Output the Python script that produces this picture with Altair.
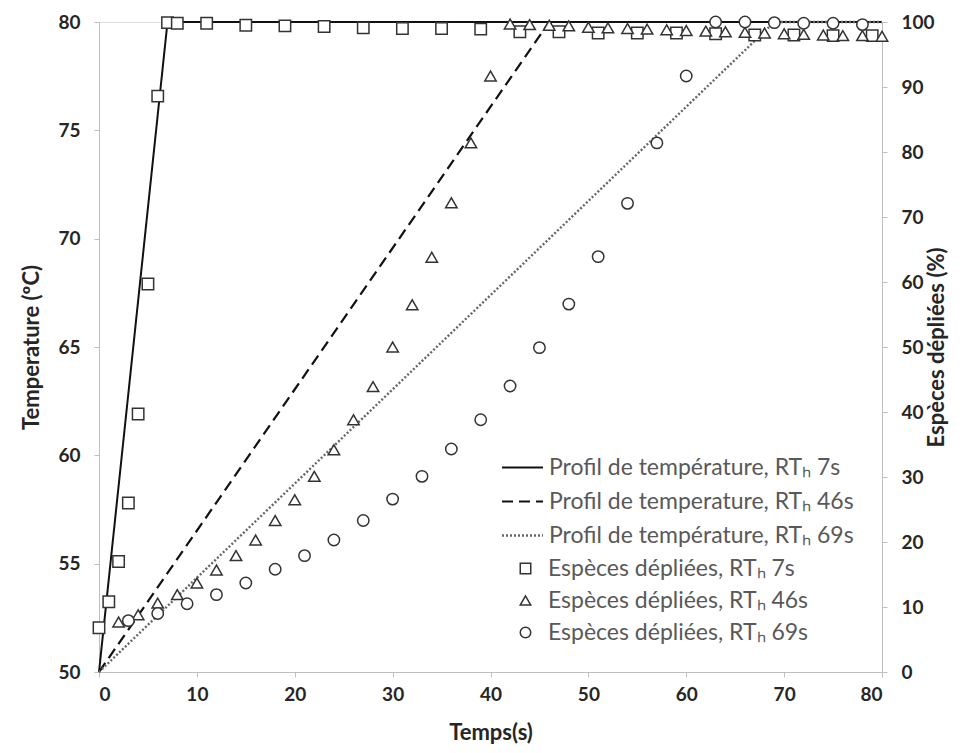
import altair as alt
import pandas as pd

# --- data ---------------------------------------------------------------
prof_labels = [
    "Profil de température, RTₕ 7s",
    "Profil de temperature, RTₕ 46s",
    "Profil de température, RTₕ 69s",
]
prof_t_7 = [0, 7, 80]
prof_t_46 = [0, 46, 80]
prof_t_69 = [0, 69, 80]
prof_temp = [50, 80, 80]

pt_labels = [
    "Espèces dépliées, RTₕ 7s",
    "Espèces dépliées, RTₕ 46s",
    "Espèces dépliées, RTₕ 69s",
]
sq_t = [0, 1, 2, 3, 4, 5, 6, 7, 8, 11, 15, 19, 23, 27, 31, 35, 39, 43, 47, 51, 55, 59, 63, 67, 71, 75, 79]
sq_v = [6.8, 10.8, 17.0, 26.0, 39.7, 59.7, 88.6, 99.9, 99.8, 99.8, 99.5, 99.4, 99.3, 99.1, 99.0, 99.0,
        98.9, 98.5, 98.5, 98.3, 98.3, 98.3, 98.2, 98.0, 98.0, 97.9, 97.9]
tri_t = [2, 4, 6, 8, 10, 12, 14, 16, 18, 20, 22, 24, 26, 28, 30, 32, 34, 36, 38, 40,
         42, 44, 46, 48, 50, 52, 54, 56, 58, 60, 62, 64, 66, 68, 70, 72, 74, 76, 78, 80]
tri_v = [7.7, 8.8, 10.6, 11.9, 13.7, 15.7, 17.9, 20.3, 23.3, 26.5, 30.1, 34.2, 38.8, 43.9, 50.0,
         56.5, 63.8, 72.2, 81.4, 91.7,
         99.7, 99.6, 99.5, 99.4, 99.2, 99.1, 99.0, 98.9, 98.8, 98.7, 98.6, 98.5, 98.4, 98.3, 98.2,
         98.1, 98.0, 97.9, 97.9, 97.8]
circ_t = [3, 6, 9, 12, 15, 18, 21, 24, 27, 30, 33, 36, 39, 42, 45, 48, 51, 54, 57, 60,
          63, 66, 69, 72, 75, 78]
circ_v = [7.9, 9.0, 10.5, 11.9, 13.7, 15.8, 17.9, 20.3, 23.3, 26.6, 30.1, 34.3, 38.8, 44.0, 49.9,
          56.6, 63.9, 72.1, 81.4, 91.7, 100.0, 100.0, 99.9, 99.8, 99.8, 99.6]

x_ticks = [0, 10, 20, 30, 40, 50, 60, 70, 80]
yl_ticks = [50, 55, 60, 65, 70, 75, 80]
yr_ticks = [0, 10, 20, 30, 40, 50, 60, 70, 80, 90, 100]

# --- tables -------------------------------------------------------------
lines_df = pd.concat([
    pd.DataFrame({"t": prof_t_7, "temp": prof_temp, "profil": prof_labels[0], "o": [0, 1, 2]}),
    pd.DataFrame({"t": prof_t_46, "temp": prof_temp, "profil": prof_labels[1], "o": [0, 1, 2]}),
    pd.DataFrame({"t": prof_t_69, "temp": prof_temp, "profil": prof_labels[2], "o": [0, 1, 2]}),
])
pts_df = pd.concat([
    pd.DataFrame({"t": sq_t, "pct": sq_v, "especes": pt_labels[0]}),
    pd.DataFrame({"t": tri_t, "pct": tri_v, "especes": pt_labels[1]}),
    pd.DataFrame({"t": circ_t, "pct": circ_v, "especes": pt_labels[2]}),
])

FONT = "Lato"
LAB = dict(labelFont=FONT, labelFontSize=19, labelFontWeight="bold", labelColor="#262626",
           titleFont=FONT, titleFontSize=22, titleFontWeight="bold", titleColor="#262626",
           domainColor="#bfbfbf", tickColor="#bfbfbf", tickSize=5, grid=False)

x_enc = alt.X("t:Q", scale=alt.Scale(domain=[0, 80], nice=False),
              axis=alt.Axis(values=x_ticks, title="Temps(s)", labelPadding=8, titlePadding=18, **LAB))

line_leg = alt.Legend(title=None, orient="none", legendX=412, legendY=434,
                      symbolType="M-4,0H4", symbolSize=105, symbolStrokeWidth=2,
                      labelFont=FONT, labelFontSize=23, labelColor="#595959",
                      labelLimit=0, labelOffset=15, rowPadding=10, padding=0)

lines = alt.Chart(lines_df).mark_line().encode(
    x=x_enc,
    y=alt.Y("temp:Q", scale=alt.Scale(domain=[50, 80], nice=False),
            axis=alt.Axis(values=yl_ticks, title="Temperature (ºC)", orient="left",
                          labelPadding=14, titlePadding=14, **LAB)),
    order="o:Q",
    strokeDash=alt.StrokeDash("profil:N", scale=alt.Scale(domain=prof_labels,
                              range=[[1, 0], [11, 6], [2, 2]]), legend=line_leg),
    color=alt.Color("profil:N", scale=alt.Scale(domain=prof_labels,
                    range=["#111111", "#111111", "#666666"]), legend=line_leg),
    strokeWidth=alt.StrokeWidth("profil:N", scale=alt.Scale(domain=prof_labels, range=[2, 2.4, 1.5]),
                                legend=None),
)

pt_leg = alt.Legend(title=None, orient="none", legendX=415, legendY=535,
                    symbolFillColor="white", symbolStrokeWidth=1.5, symbolSize=110,
                    labelFont=FONT, labelFontSize=23, labelColor="#595959",
                    labelLimit=0, labelOffset=11, rowPadding=8, padding=0)

points = alt.Chart(pts_df).mark_point(filled=False, fill="white", strokeWidth=1.5, size=130,
                                      opacity=1, fillOpacity=1).encode(
    x=x_enc,
    y=alt.Y("pct:Q", scale=alt.Scale(domain=[0, 100], nice=False),
            axis=alt.Axis(values=yr_ticks, title="Espèces dépliées (%)", orient="right",
                          titleAngle=270, labelPadding=14, titlePadding=14, **LAB)),
    shape=alt.Shape("especes:N", scale=alt.Scale(domain=pt_labels,
                    range=["square", "triangle-up", "circle"]), legend=pt_leg),
    stroke=alt.Stroke("especes:N", scale=alt.Scale(domain=pt_labels,
                      range=["#333333", "#333333", "#333333"]), legend=pt_leg),
)

chart = alt.layer(lines, points).resolve_scale(
    y="independent",
).properties(
    width=783, height=650,
    padding={"left": 12, "top": 5, "right": 5, "bottom": 5},
).configure_view(stroke=None).configure(background="white")

chart.save("out.html", embed_options={"renderer": "svg", "actions": False})
